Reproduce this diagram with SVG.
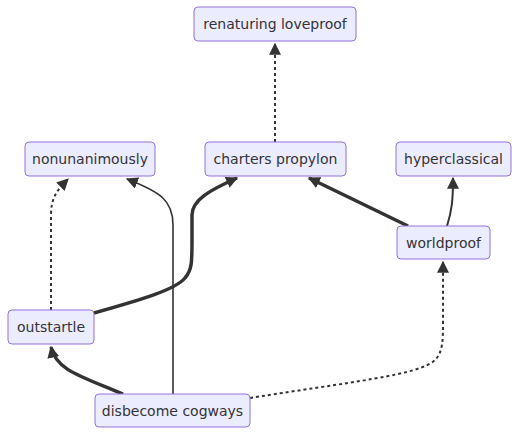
<svg xmlns="http://www.w3.org/2000/svg" width="519" height="436" viewBox="0 0 519 436">
<style>
.node rect{fill:#ECECFF;stroke:#9370DB;stroke-width:1}
.node text{font-family:"DejaVu Sans",sans-serif;font-size:14px;fill:#333;text-anchor:middle;dominant-baseline:central}
.e{fill:none;stroke:#333}
.n{stroke-width:2}
.t{stroke-width:3.5}
.d{stroke-width:2;stroke-dasharray:3 3}
</style>
<defs>
<marker id="a" viewBox="0 0 10 10" refX="9" refY="5" markerWidth="12" markerHeight="12" markerUnits="userSpaceOnUse" orient="auto">
<path d="M0,0 L10,5 L0,10 z" fill="#333"/>
</marker>
</defs>
<rect width="519" height="436" fill="#fff"/>
<g id="edges">
<path class="e d" d="M275,142 L275,44" marker-end="url(#a)"/>
<path class="e d" d="M51,310 L51,215 C51,198 57,190 68,179" marker-end="url(#a)"/>
<path class="e n" style="stroke-width:1.6" d="M173,394 L173,225 C173,200 160,192 127,179" marker-end="url(#a)"/>
<path class="e t" d="M94,313 C140,300 175,290 185,278 C192,270 192,262 192,240 L192,215 C192,200 210,190 237,178" marker-end="url(#a)"/>
<path class="e t" d="M408,226 L309,178" marker-end="url(#a)"/>
<path class="e n" d="M447,226 C452,210 453,200 453,178" marker-end="url(#a)"/>
<path class="e t" d="M123,394 C80,376 56,370 51,347" marker-end="url(#a)"/>
<path class="e d" d="M250,398 C350,382 420,375 435,360 C443,352 443,340 443,320 L443,262" marker-end="url(#a)"/>
</g>
<g id="renaturing" class="node"><rect x="194" y="7" width="162" height="34" rx="4"/><text x="275" y="24">renaturing loveproof</text></g>
<g id="nonunanimously" class="node"><rect x="25" y="142" width="130" height="34" rx="4"/><text x="90" y="159">nonunanimously</text></g>
<g id="charters" class="node"><rect x="205" y="142" width="141" height="34" rx="4"/><text x="275.5" y="159">charters propylon</text></g>
<g id="hyperclassical" class="node"><rect x="396" y="142" width="115" height="34" rx="4"/><text x="453.5" y="159">hyperclassical</text></g>
<g id="worldproof" class="node"><rect x="397" y="226" width="93" height="33" rx="4"/><text x="443.5" y="242.5">worldproof</text></g>
<g id="outstartle" class="node"><rect x="8" y="310" width="86" height="34" rx="4"/><text x="51" y="327">outstartle</text></g>
<g id="disbecome" class="node"><rect x="95" y="394" width="155" height="33" rx="4"/><text x="172.5" y="410.5">disbecome cogways</text></g>
</svg>
